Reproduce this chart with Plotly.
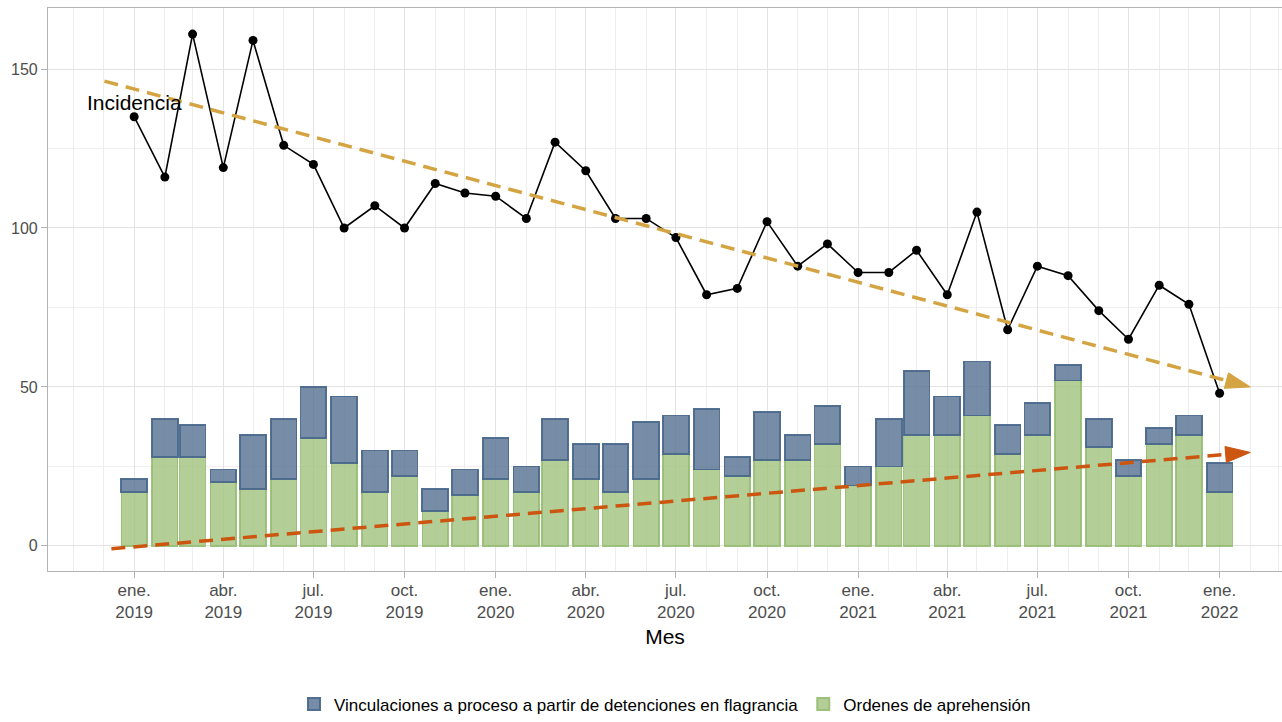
import plotly.graph_objects as go

months = [
    "2019-01-01", "2019-02-01", "2019-03-01", "2019-04-01", "2019-05-01", "2019-06-01",
    "2019-07-01", "2019-08-01", "2019-09-01", "2019-10-01", "2019-11-01", "2019-12-01",
    "2020-01-01", "2020-02-01", "2020-03-01", "2020-04-01", "2020-05-01", "2020-06-01",
    "2020-07-01", "2020-08-01", "2020-09-01", "2020-10-01", "2020-11-01", "2020-12-01",
    "2021-01-01", "2021-02-01", "2021-03-01", "2021-04-01", "2021-05-01", "2021-06-01",
    "2021-07-01", "2021-08-01", "2021-09-01", "2021-10-01", "2021-11-01", "2021-12-01",
    "2022-01-01",
]

incidencia = [135, 116, 161, 119, 159, 126, 120, 100, 107, 100, 114, 111,
              110, 103, 127, 118, 103, 103, 97, 79, 81, 102, 88, 95,
              86, 86, 93, 79, 105, 68, 88, 85, 74, 65, 82, 76, 48]

ordenes = [17, 28, 28, 20, 18, 21, 34, 26, 17, 22, 11, 16,
           21, 17, 27, 21, 17, 21, 29, 24, 22, 27, 27, 32,
           19, 25, 35, 35, 41, 29, 35, 52, 31, 22, 32, 35, 17]

vinculaciones = [4, 12, 10, 4, 17, 19, 16, 21, 13, 8, 7, 8,
                 13, 8, 13, 11, 15, 18, 12, 19, 6, 15, 8, 12,
                 6, 15, 20, 12, 17, 9, 10, 5, 9, 5, 5, 6, 9]

tick_dates = ["2019-01-01", "2019-04-01", "2019-07-01", "2019-10-01",
              "2020-01-01", "2020-04-01", "2020-07-01", "2020-10-01",
              "2021-01-01", "2021-04-01", "2021-07-01", "2021-10-01",
              "2022-01-01"]
tick_labels = ["ene.<br>2019", "abr.<br>2019", "jul.<br>2019", "oct.<br>2019",
               "ene.<br>2020", "abr.<br>2020", "jul.<br>2020", "oct.<br>2020",
               "ene.<br>2021", "abr.<br>2021", "jul.<br>2021", "oct.<br>2021",
               "ene.<br>2022"]

# trend arrows (start / end)
trend_inc_x = ["2018-12-02", "2022-02-01"]
trend_inc_y = [146.2, 50.0]
trend_ord_x = ["2018-12-09", "2022-02-01"]
trend_ord_y = [-0.9, 29.4]

FONT = "Liberation Sans Narrow, Arial Narrow, Liberation Sans, Arial, sans-serif"
GRAY_TXT = "#4d4d4d"

fig = go.Figure()

fig.add_trace(go.Bar(
    x=months, y=ordenes, name="Ordenes de aprehensión",
    marker=dict(color="rgba(160,195,125,0.8)", line=dict(color="rgba(150,188,115,0.9)", width=1.5)),
    width=26 * 86400000, legendrank=2,
))
fig.add_trace(go.Bar(
    x=months, y=vinculaciones, name="Vinculaciones a proceso a partir de detenciones en flagrancia",
    marker=dict(color="rgba(85,113,145,0.8)", line=dict(color="rgba(75,105,140,0.95)", width=1.8)),
    width=26 * 86400000, legendrank=1,
))

fig.add_trace(go.Scatter(
    x=months, y=incidencia, mode="lines+markers", showlegend=False,
    line=dict(color="black", width=1.6),
    marker=dict(color="black", size=9),
))

fig.add_trace(go.Scatter(
    x=trend_inc_x, y=trend_inc_y, mode="lines+markers", showlegend=False,
    line=dict(color="#d4a443", width=3.5, dash="14px,8px"),
    marker=dict(symbol="arrow", angleref="previous", size=[0, 26], color="#d4a443",
                opacity=1, line=dict(width=1, color="#d4a443")),
))
fig.add_trace(go.Scatter(
    x=trend_ord_x, y=trend_ord_y, mode="lines+markers", showlegend=False,
    line=dict(color="#cc5510", width=3.5, dash="14px,8px"),
    marker=dict(symbol="arrow", angleref="previous", size=[0, 26], color="#cc5510",
                opacity=1, line=dict(width=1, color="#cc5510")),
))

fig.add_annotation(x=months[0], y=139.5, text="Incidencia", showarrow=False,
                   font=dict(family="Liberation Sans, Arial, sans-serif", size=21, color="black"),
                   xanchor="center", yanchor="middle")

fig.update_layout(
    width=1282, height=722,
    margin=dict(l=48, r=0, t=8, b=151, autoexpand=False),
    paper_bgcolor="white", plot_bgcolor="white",
    barmode="stack",
    font=dict(family=FONT, size=16, color=GRAY_TXT),
    legend=dict(orientation="h", x=0.5, xanchor="center", y=-0.205, yanchor="top",
                font=dict(family=FONT, size=17, color="black"), traceorder="normal",
                itemsizing="constant"),
    showlegend=True,
)

fig.update_xaxes(
    type="date", automargin=False,
    range=["2018-10-06", "2022-03-05"],
    tickmode="array", tickvals=tick_dates, ticktext=tick_labels,
    ticks="outside", ticklen=6, tickcolor="#b3b3b3", tickwidth=1,
    ticklabelstandoff=-3,
    tickfont=dict(family=FONT, size=17, color=GRAY_TXT),
    showgrid=True, gridcolor="#e3e3e3", gridwidth=1,
    minor=dict(tick0="2018-11-01", dtick="M1", showgrid=True, gridcolor="#ededed", gridwidth=1),
    showline=True, linecolor="#b3b3b3", linewidth=1.2, mirror=True,
    zeroline=False,
    title=dict(text="Mes", font=dict(family=FONT, size=21, color="black"), standoff=8),
)
fig.update_yaxes(
    automargin=False,
    range=[-7.9, 169.2],
    tickvals=[0, 50, 100, 150],
    ticks="outside", ticklen=6, tickcolor="#b3b3b3", tickwidth=1,
    tickfont=dict(family="Liberation Sans, Arial, sans-serif", size=16, color=GRAY_TXT),
    showgrid=True, gridcolor="#e3e3e3", gridwidth=1,
    minor=dict(tickvals=[25, 75, 125], showgrid=True, gridcolor="#efefef", gridwidth=1),
    showline=True, linecolor="#b3b3b3", linewidth=1.2, mirror=True,
    zeroline=False,
)

fig.write_html("out.html", config={"displayModeBar": False},
               post_script="document.body.style.margin='0px';document.body.style.overflow='hidden';")
